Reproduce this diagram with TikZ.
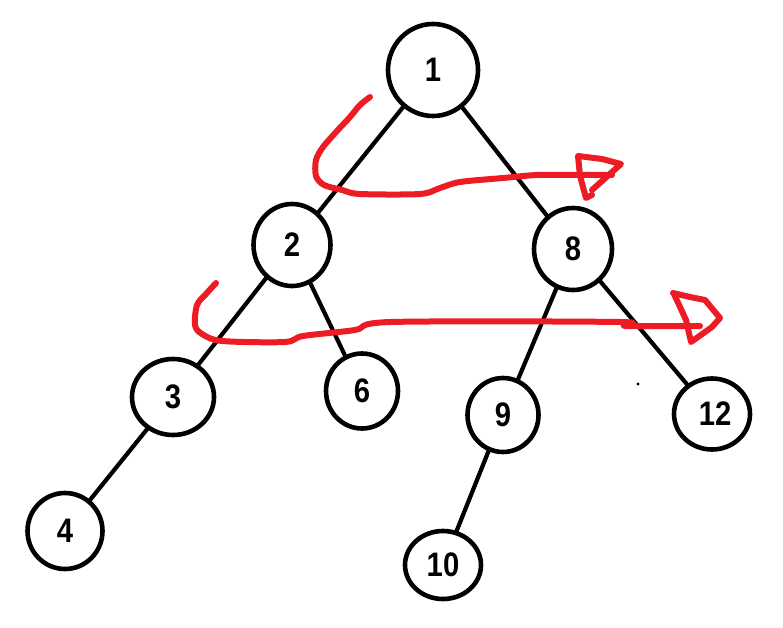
\documentclass[tikz,border=0pt]{standalone}
\usepackage{fontspec}
\setmainfont[FakeStretch=0.86]{Liberation Sans}
\usetikzlibrary{shapes.geometric}
\tikzset{
  tnode/.style={ellipse, draw=black, line width=4.6pt, inner sep=0pt, fill=white,
     font=\fontsize{34}{34}\selectfont\bfseries},
  tedge/.style={draw=black, line width=4.2pt},
  redstroke/.style={color={rgb,255:red,237;green,28;blue,36}, line width=6pt, line cap=round, line join=round}
}
\begin{document}
\begin{tikzpicture}[x=1pt,y=-1pt]
\useasboundingbox (0,0) rectangle (783,628);
% edges first (under nodes)
\coordinate (c1) at (433,70);
\coordinate (c2) at (292,245);
\coordinate (c8) at (573,249);
\coordinate (c3) at (173,397);
\coordinate (c6) at (362,391);
\coordinate (c9) at (503,415);
\coordinate (c12) at (712,414);
\coordinate (c4) at (65,531);
\coordinate (c10) at (443,565);
\draw[tedge] (c1) -- (c2);
\draw[tedge] (c1) -- (c8);
\draw[tedge] (c2) -- (c3);
\draw[tedge] (c2) -- (c6);
\draw[tedge] (c8) -- (c9);
\draw[tedge] (c8) -- (c12);
\draw[tedge] (c3) -- (c4);
\draw[tedge] (c9) -- (c10);
% nodes
\node[tnode, minimum width=90pt, minimum height=92pt] (n1) at (c1) {1};
\node[tnode, minimum width=77pt, minimum height=82pt] (n2) at (c2) {2};
\node[tnode, minimum width=78pt, minimum height=82pt] (n8) at (c8) {8};
\node[tnode, minimum width=82pt, minimum height=76pt] (n3) at (c3) {3};
\node[tnode, minimum width=72pt, minimum height=75pt] (n6) at (c6) {6};
\node[tnode, minimum width=71pt, minimum height=74pt] (n9) at (c9) {9};
\node[tnode, minimum width=76pt, minimum height=71pt] (n12) at (c12) {\hspace*{6pt}12};
\node[tnode, minimum width=75pt, minimum height=76pt] (n4) at (c4) {4};
\node[tnode, minimum width=76pt, minimum height=68pt] (n10) at (c10) {10};
% red freehand arrows
\draw[redstroke] plot[smooth, tension=0.5] coordinates {(370,97) (360,105) (350,117) (337,131) (323,147) (316,160) (316,176) (324,185) (342,190) (360,194) (420,194) (440,188) (460,182) (503,178) (537,175) (577,175) (612,175)};
\draw[redstroke] (592,190) -- (621,164) -- (602,159) -- (578,156) -- (580,176) -- (586,198) -- (592,195);
\draw[redstroke] plot[smooth, tension=0.5] coordinates {(216,283) (206,294) (197,305) (195,325) (202,334) (222,341) (285,342) (303,336) (355,330) (391,322) (620,322) (626,326) (700,326)};
\draw[redstroke] (673,293) -- (690,297) -- (705,300) -- (720,318) -- (712,327) -- (691,342) -- (686,320) -- (674,294);
% dot
\fill (638,384) circle (1.6pt);
\end{tikzpicture}
\end{document}
